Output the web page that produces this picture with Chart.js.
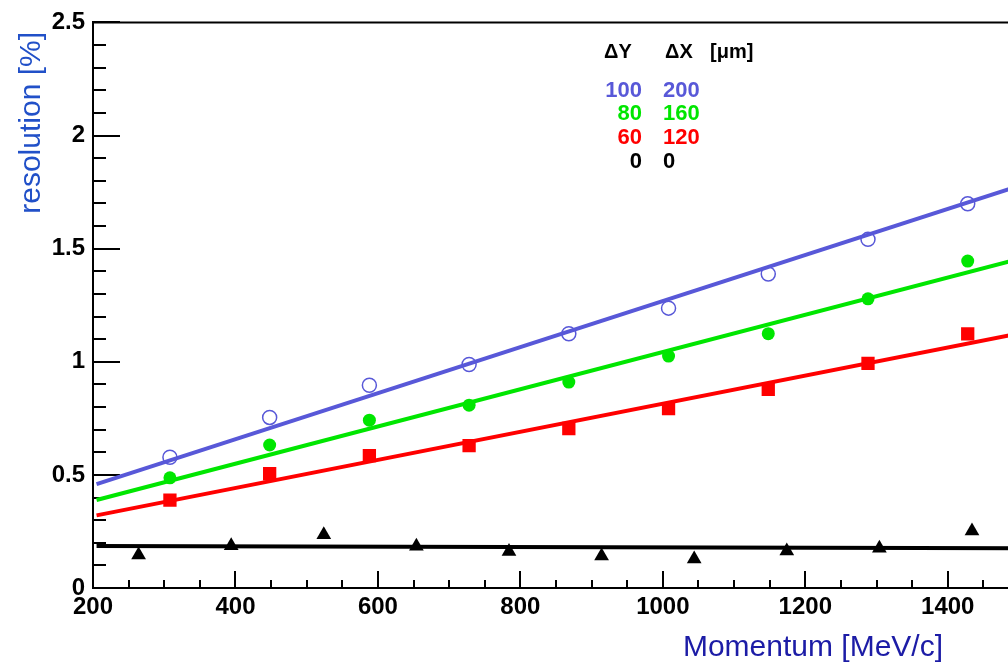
<!DOCTYPE html>
<html>
<head>
<meta charset="utf-8">
<script src="https://cdn.jsdelivr.net/npm/chart.js@4.4.1/dist/chart.umd.min.js"></script>
<style>
  html, body { margin: 0; padding: 0; background: #fff; overflow: hidden; }
  #wrap { position: relative; width: 1030px; height: 668px; }
</style>
</head>
<body>
<div id="wrap"><canvas id="chart"></canvas></div>
<script>
var momentumA = [308, 448, 588, 728, 868, 1008, 1148, 1288, 1428];
var res100_200 = [0.578, 0.754, 0.896, 0.988, 1.124, 1.237, 1.388, 1.541, 1.698];
var res80_160 = [0.487, 0.632, 0.742, 0.808, 0.910, 1.025, 1.124, 1.278, 1.445];
var res60_120 = [0.388, 0.505, 0.585, 0.629, 0.705, 0.793, 0.878, 0.993, 1.123];

var momentumB = [264, 394, 524, 654, 784, 914, 1044, 1174, 1304, 1434];
var res0_0 = [0.146, 0.187, 0.235, 0.184, 0.161, 0.141, 0.128, 0.164, 0.176, 0.252];

// linear fits: value at start / end of fit range
var fitRange = [205, 1500];
var fit100_200 = [0.459, 1.777];
var fit80_160 = [0.389, 1.455];
var fit60_120 = [0.321, 1.125];
var fit0_0 = [0.186, 0.176];

var xTicks = [200, 400, 600, 800, 1000, 1200, 1400];
var yTicks = [0, 0.5, 1, 1.5, 2, 2.5];

var legendDY = ['100', '80', '60', '0'];
var legendDX = ['200', '160', '120', '0'];

var BLUE = '#5858d8';
var GREEN = '#00e600';
var RED = '#ff0000';
var BLACK = '#000000';
var LEGEND_COLORS = [BLUE, GREEN, RED, BLACK];
var FONT = '"Liberation Sans", Arial, Helvetica, sans-serif';

function pts(xs, ys) {
  return xs.map(function (x, i) { return { x: x, y: ys[i] }; });
}

function fitLine(vals, color) {
  return {
    data: pts(fitRange, vals),
    showLine: true,
    borderColor: color,
    borderWidth: 4,
    pointRadius: 0,
    order: 2
  };
}

var frame = {
  id: 'frame',
  beforeDatasetsDraw: function (chart) {
    var ctx = chart.ctx, a = chart.chartArea;
    var xs = chart.scales.x, ys = chart.scales.y;
    ctx.save();
    ctx.strokeStyle = '#000';
    ctx.lineWidth = 2;
    ctx.beginPath();
    // inner ticks on y axis, minor every 0.1
    for (var i = 0; i <= 25; i++) {
      var y = Math.round(ys.getPixelForValue(i / 10));
      var len = (i % 5 === 0) ? 27 : 13;
      ctx.moveTo(a.left, y);
      ctx.lineTo(a.left + len, y);
    }
    // inner ticks on x axis, minor every 50
    for (var m = 200; m <= 1500; m += 50) {
      var x = Math.round(xs.getPixelForValue(m));
      var l2 = (m % 200 === 0) ? 17 : 8;
      ctx.moveTo(x, a.bottom);
      ctx.lineTo(x, a.bottom - l2);
    }
    // top + right frame
    ctx.moveTo(a.left, a.top);
    ctx.lineTo(a.right, a.top);
    ctx.lineTo(a.right, a.bottom);
    ctx.stroke();
    ctx.restore();
  },
  afterDraw: function (chart) {
    var ctx = chart.ctx;
    ctx.save();
    // axis titles
    ctx.fillStyle = '#1c1ca6';
    ctx.font = '30px ' + FONT;
    ctx.textAlign = 'right';
    ctx.textBaseline = 'alphabetic';
    ctx.fillText('Momentum [MeV/c]', 943, 656);

    ctx.save();
    ctx.translate(40, 32);
    ctx.rotate(-Math.PI / 2);
    ctx.fillStyle = '#2150c8';
    ctx.fillText('resolution [%]', 0, 0);
    ctx.restore();

    // legend block
    ctx.fillStyle = '#000';
    ctx.font = 'bold 20px ' + FONT;
    ctx.textAlign = 'left';
    ctx.fillText('\u0394Y', 604, 58);
    ctx.fillText('\u0394X', 665, 58);
    ctx.fillText('[\u03bcm]', 710, 58);

    ctx.font = 'bold 22px ' + FONT;
    var rows = [97, 120, 144, 168];
    legendDY.forEach(function (t, i) {
      ctx.fillStyle = LEGEND_COLORS[i];
      ctx.textAlign = 'right';
      ctx.fillText(t, 642, rows[i]);
      ctx.textAlign = 'left';
      ctx.fillText(legendDX[i], 663, rows[i]);
    });
    ctx.restore();
  }
};

new Chart(document.getElementById('chart'), {
  type: 'scatter',
  data: {
    datasets: [
      {
        data: pts(momentumA, res100_200),
        pointStyle: 'circle',
        pointRadius: 7,
        pointBorderWidth: 1.5,
        borderColor: BLUE,
        backgroundColor: 'rgba(0,0,0,0)',
        order: 1
      },
      {
        data: pts(momentumA, res80_160),
        pointStyle: 'circle',
        pointRadius: 6.5,
        pointBorderWidth: 0,
        borderColor: GREEN,
        backgroundColor: GREEN,
        order: 1
      },
      {
        data: pts(momentumA, res60_120),
        pointStyle: 'rect',
        pointRadius: 9.4,
        pointBorderWidth: 0,
        borderColor: RED,
        backgroundColor: RED,
        order: 1
      },
      {
        data: pts(momentumB, res0_0),
        pointStyle: 'triangle',
        pointRadius: 8.5,
        pointBorderWidth: 0,
        borderColor: BLACK,
        backgroundColor: BLACK,
        order: 1
      },
      fitLine(fit100_200, BLUE),
      fitLine(fit80_160, GREEN),
      fitLine(fit60_120, RED),
      fitLine(fit0_0, BLACK)
    ]
  },
  options: {
    responsive: true,
    maintainAspectRatio: false,
    animation: false,
    events: [],
    layout: { padding: { left: 0, top: 19, right: 11, bottom: 0 } },
    plugins: { legend: { display: false }, tooltip: { enabled: false } },
    scales: {
      x: {
        type: 'linear',
        min: 200,
        max: 1500,
        grid: { display: false, drawTicks: false },
        border: { display: true, color: '#000', width: 2 },
        ticks: {
          color: '#000', padding: 7,
          font: { family: FONT, size: 24, weight: 'bold', lineHeight: 1 },
          callback: function (v) { return String(v); }
        },
        afterBuildTicks: function (s) { s.ticks = xTicks.map(function (v) { return { value: v }; }); },
        afterFit: function (s) { s.height = 80; }
      },
      y: {
        type: 'linear',
        min: 0,
        max: 2.5,
        grid: { display: false, drawTicks: false },
        border: { display: true, color: '#000', width: 2 },
        ticks: {
          color: '#000', padding: 8,
          font: { family: FONT, size: 24, weight: 'bold' },
          callback: function (v) { return String(v); }
        },
        afterBuildTicks: function (s) { s.ticks = yTicks.map(function (v) { return { value: v }; }); },
        afterFit: function (s) { s.width = 93; }
      }
    }
  },
  plugins: [frame]
});
</script>
</body>
</html>
